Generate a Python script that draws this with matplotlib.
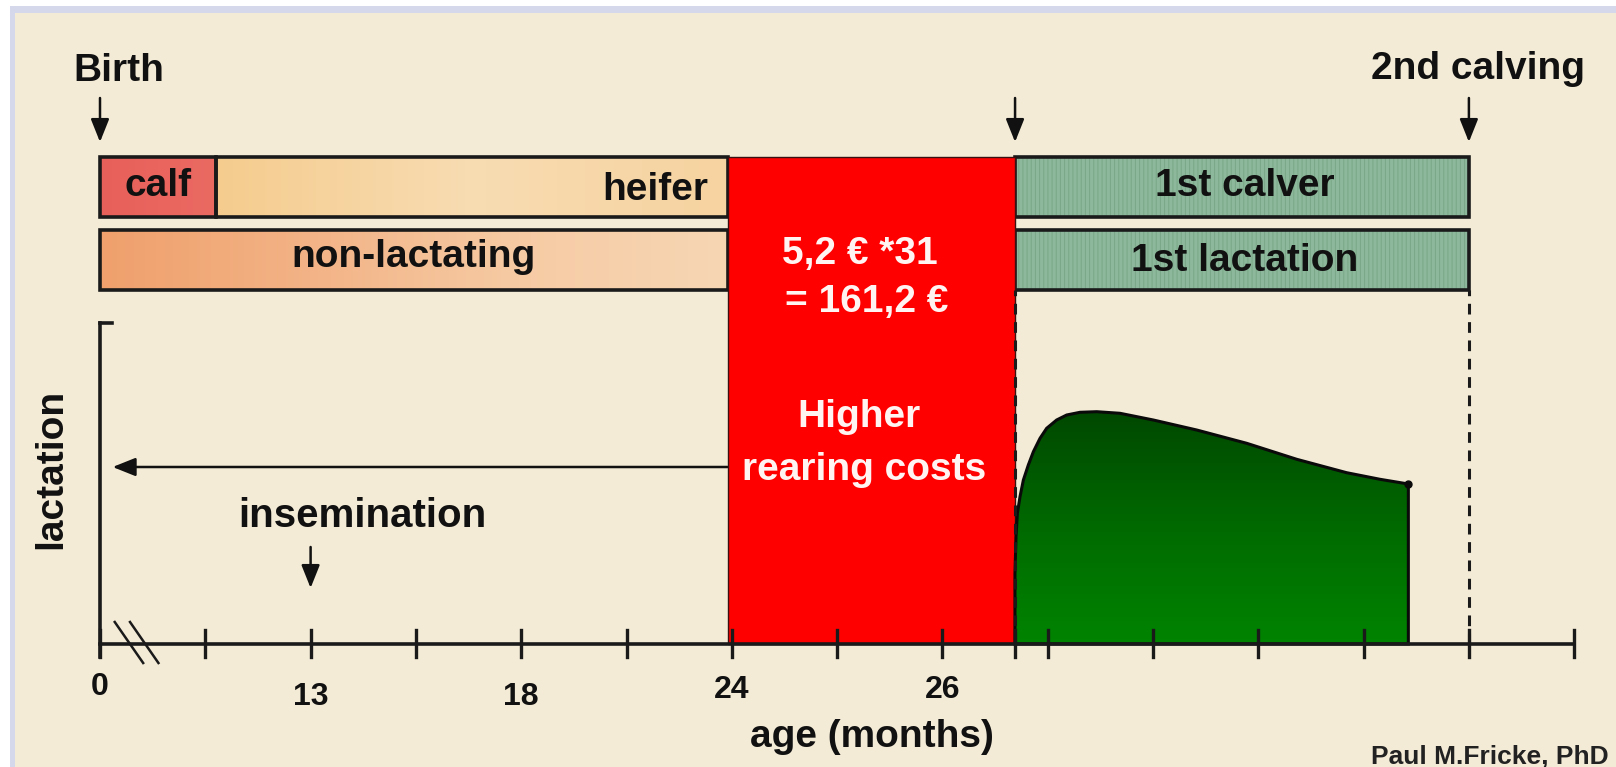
import numpy as np
import matplotlib
matplotlib.use("Agg")
import matplotlib.pyplot as plt
from matplotlib.patches import Rectangle, Polygon
from matplotlib.colors import LinearSegmentedColormap

plt.rcParams['font.family'] = ['Liberation Sans', 'DejaVu Sans']
plt.rcParams['font.weight'] = 'bold'
plt.rcParams['hatch.linewidth'] = 0.7

# x is a schematic slot on the drawn age axis (one slot per tick), y is lactation level
tick_slots = [0, 1, 2, 3, 4, 5, 6, 7, 8, 8.69, 9, 10, 11, 12, 13, 14]
tick_label_slots = [0, 2, 4, 6, 8]
tick_labels = ["0", "13", "18", "24", "26"]
tick_label_y = [-0.43, -0.53, -0.53, -0.46, -0.46]

top_labels = ["calf", "heifer"]
top_start = [0, 1.10]
top_end = [1.10, 5.96]
top_colors = [["#E8605A", "#EA6A62"], ["#F5CC8E", "#F8DCB2", "#F6D3A0"]]

cost_start, cost_end = 5.96, 8.69
calving1, calving2 = 8.69, 13.0
birth = 0.0
insemination = 2.0

cost_lines = ["5,2 € *31", "= 161,2 €", "Higher", "rearing costs"]
cost_line_x = [7.22, 7.28, 7.21, 7.26]
cost_line_y = [3.90, 3.42, 2.27, 1.74]

lact_x = [8.689, 8.689, 8.699, 8.712, 8.737, 8.769, 8.816, 8.864, 8.927, 8.990, 9.085,
          9.180, 9.307, 9.465, 9.687, 10.003, 10.415, 10.890, 11.365, 11.839, 12.156,
          12.425, 12.425]
lact_y = [0.0, 0.70, 1.073, 1.307, 1.473, 1.640, 1.790, 1.923, 2.057, 2.157, 2.240,
          2.290, 2.317, 2.323, 2.307, 2.240, 2.140, 2.007, 1.847, 1.713, 1.647,
          1.600, 0.0]

row1 = (4.27, 4.87)
row2 = (3.54, 4.14)
y_top = 3.21

fig = plt.figure(figsize=(16.16, 7.67), dpi=100)
fig.patch.set_facecolor("white")
fig.add_artist(Rectangle((10 / 1616, 0), 1, 1 - 6 / 767, transform=fig.transFigure,
                         facecolor="#D4D8EA", edgecolor="none", zorder=0))
fig.add_artist(Rectangle((15 / 1616, 0), 1, 1 - 13 / 767, transform=fig.transFigure,
                         facecolor="#F3EBD6", edgecolor="none", zorder=0))

ax = fig.add_axes([0, 0, 1, 1])
ax.set_facecolor("none")
ax.axis("off")


def grad_rect(x0, x1, y0, y1, colors, vertical=False, z=2):
    cmap = LinearSegmentedColormap.from_list("g", colors)
    g = np.linspace(0, 1, 256)
    g = g.reshape(-1, 1) if vertical else g.reshape(1, -1)
    ax.imshow(g, cmap=cmap, extent=[x0, x1, y0, y1], aspect="auto",
              origin="lower", zorder=z, interpolation="bicubic")
    ax.add_patch(Rectangle((x0, y0), x1 - x0, y1 - y0, facecolor="none",
                           edgecolor="#1A1A1A", lw=2.6, zorder=z + 1))


txt = dict(fontsize=28, fontweight="bold", color="#111111")

# top phase bars
for lab, s, e, c in zip(top_labels, top_start, top_end, top_colors):
    grad_rect(s, e, row1[0], row1[1], c)
ax.text(0.55, 4.58, "calf", ha="center", va="center", **txt)
ax.text(5.78, 4.54, "heifer", ha="right", va="center", **txt)
grad_rect(0, cost_start, row2[0], row2[1], ["#EFA06C", "#F3B386", "#F6CBA4", "#F7D6B4"])
ax.text(2.98, 3.87, "non-lactating", ha="center", va="center", **txt)

for r, lab, ly in [(row1, "1st calver", 4.58), (row2, "1st lactation", 3.83)]:
    ax.add_patch(Rectangle((calving1, r[0]), calving2 - calving1, r[1] - r[0],
                           facecolor="#8DB89B", edgecolor="#7BA789", hatch="||||",
                           lw=0, zorder=2))
    ax.add_patch(Rectangle((calving1, r[0]), calving2 - calving1, r[1] - r[0],
                           facecolor="none", edgecolor="#1A1A1A", lw=2.6, zorder=3))
    ax.text(10.87, ly, lab, ha="center", va="center", **txt)

# rearing cost block
ax.add_patch(Rectangle((cost_start, 0), cost_end - cost_start, row1[1],
                       facecolor="#FF0000", edgecolor="#3A1010", lw=1.0, zorder=4))
for s, x, y in zip(cost_lines, cost_line_x, cost_line_y):
    ax.text(x, y, s, ha="center", va="center", fontsize=28, fontweight="bold",
            color="#FFF4F2", zorder=5)

# lactation curve
poly = Polygon(np.column_stack([lact_x, lact_y]), closed=True, facecolor="none",
               edgecolor="#0A0A0A", lw=2.2, zorder=6)
ax.add_patch(poly)
cmap = LinearSegmentedColormap.from_list("gr", ["#008400", "#006A00", "#004800"])
im = ax.imshow(np.linspace(0, 1, 256).reshape(-1, 1), cmap=cmap,
               extent=[min(lact_x), max(lact_x), 0, max(lact_y)], aspect="auto",
               origin="lower", zorder=5)
im.set_clip_path(poly)
ax.plot(lact_x[-2], lact_y[-2], "o", color="#0A0A0A", ms=5, zorder=7)

# dashed calving lines
for xv in [calving1, calving2]:
    ax.plot([xv, xv], [0, row2[0]], color="#1A1A1A", lw=2.2, ls=(0, (3.5, 2.5)), zorder=6)

# axes
ax.plot([0, 14], [0, 0], color="#1A1A1A", lw=2.6, zorder=7)
ax.plot([0, 0], [-0.13, y_top], color="#1A1A1A", lw=2.6, zorder=7)
ax.plot([0, 0.11], [y_top, y_top], color="#1A1A1A", lw=2.6, zorder=7)
for t in tick_slots:
    ax.plot([t, t], [-0.13, 0.14], color="#1A1A1A", lw=2.4, zorder=7)
for d in [0, 0.145]:
    ax.plot([0.14 + d, 0.41 + d], [0.22, -0.19], color="#1A1A1A", lw=1.8, zorder=7)

for t, lab, y in zip(tick_label_slots, tick_labels, tick_label_y):
    ax.text(t, y, lab, ha="center", va="center", fontsize=23, fontweight="bold",
            color="#111111")
ax.text(7.33, -0.93, "age (months)", ha="center", va="center", **txt)
ax.text(-0.46, 1.75, "lactation", rotation=90, ha="center", va="center", **txt)

# arrows
arrow = dict(arrowstyle="-|>,head_length=0.7,head_width=0.28", color="#111111",
             lw=1.8, shrinkA=0, shrinkB=0, mutation_scale=20)
for xv in [birth, calving1, calving2]:
    ax.annotate("", xy=(xv, 5.02), xytext=(xv, 5.46), arrowprops=arrow, zorder=8)
ax.annotate("", xy=(insemination, 0.56), xytext=(insemination, 0.97), arrowprops=arrow)
ax.annotate("", xy=(0.12, 1.77), xytext=(cost_start, 1.77), arrowprops=arrow, zorder=3)

ax.text(0.18, 5.73, "Birth", ha="center", va="center", **txt)
ax.text(13.09, 5.75, "2nd calving", ha="center", va="center", **txt)
ax.text(2.49, 1.28, "insemination", ha="center", va="center", fontsize=29,
        fontweight="bold", color="#111111")
ax.text(14.33, -1.13, "Paul M.Fricke, PhD", ha="right", va="center", fontsize=19,
        fontweight="bold", color="#222222")

ax.set_xlim(-100 / 105.3, 1516 / 105.3)
ax.set_ylim(-1.23, 6.44)
fig.savefig("out.png", dpi=100, facecolor=fig.get_facecolor())
